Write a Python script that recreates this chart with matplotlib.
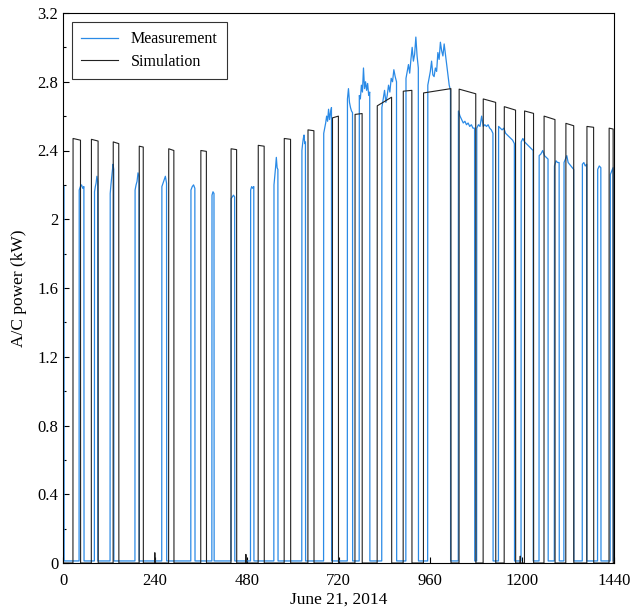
import numpy as np
import matplotlib
matplotlib.use("Agg")
import matplotlib.pyplot as plt
from matplotlib.ticker import MultipleLocator

# ---------------- data ----------------
# Simulation cycles: (on time, off time, power at start, power at end) in min / kW
sim_on  = [26, 74, 131, 199, 276, 360, 439, 510, 578, 640, 704, 763, 821, 889, 942, 1035, 1098, 1153, 1206, 1257, 1314, 1369, 1427]
sim_off = [46, 92, 146, 210, 290, 375, 454, 526, 595, 656, 720, 782, 859, 912, 1014, 1079, 1131, 1183, 1230, 1286, 1335, 1387, 1438]
sim_v0  = [2.47, 2.465, 2.45, 2.425, 2.41, 2.40, 2.41, 2.43, 2.47, 2.52, 2.59, 2.61, 2.66, 2.745, 2.735, 2.757, 2.70, 2.655, 2.63, 2.60, 2.558, 2.54, 2.53]
sim_v1  = [2.46, 2.455, 2.44, 2.42, 2.40, 2.395, 2.405, 2.425, 2.465, 2.515, 2.60, 2.615, 2.71, 2.75, 2.76, 2.73, 2.68, 2.635, 2.616, 2.58, 2.544, 2.535, 2.525]
# small simulation blips near zero
sim_blip_t = [240, 478, 1195]
sim_blip_v = [0.06, 0.05, 0.04]

# Measurement cycles: on time, off time and the sampled power levels during the cycle
meas_on  = [0, 42, 82, 123, 188, 258, 334, 389, 439, 490, 551, 624, 681, 743, 774, 833, 896, 953, 1033, 1081, 1138, 1197, 1244, 1284, 1309, 1357, 1397, 1430]
meas_off = [3, 55, 91, 133, 199, 271, 345, 395, 449, 499, 562, 634, 702, 757, 802, 872, 929, 1013, 1076, 1124, 1180, 1229, 1268, 1297, 1335, 1369, 1406, 1438]
meas_vals = [
    [2.20, 2.19],
    [2.17, 2.19, 2.20, 2.18, 2.19],
    [2.16, 2.19, 2.21, 2.25, 2.22],
    [2.15, 2.20, 2.24, 2.28, 2.32, 2.29],
    [2.17, 2.20, 2.22, 2.27, 2.25],
    [2.19, 2.21, 2.23, 2.25, 2.21],
    [2.17, 2.19, 2.20, 2.18],
    [2.14, 2.16, 2.15],
    [2.12, 2.13, 2.14, 2.13],
    [2.17, 2.19, 2.18, 2.19],
    [2.20, 2.25, 2.30, 2.36, 2.30, 2.29],
    [2.40, 2.44, 2.47, 2.49, 2.44, 2.45],
    [2.50, 2.53, 2.56, 2.60, 2.57, 2.64, 2.58, 2.62, 2.65],
    [2.70, 2.76, 2.68, 2.65, 2.63, 2.62],
    [2.72, 2.70, 2.78, 2.74, 2.88, 2.76, 2.80, 2.75, 2.79, 2.72, 2.74],
    [2.65, 2.70, 2.75, 2.68, 2.72, 2.78, 2.74, 2.82, 2.80, 2.87, 2.83, 2.80],
    [2.82, 2.86, 2.90, 2.85, 2.93, 3.00, 2.92, 2.96, 3.06, 2.95, 2.88],
    [2.78, 2.82, 2.86, 2.92, 2.84, 2.83, 2.88, 2.86, 2.97, 2.93, 3.03, 2.98, 2.95, 3.02, 2.96, 2.90, 2.84, 2.78, 2.75],
    [2.63, 2.60, 2.58, 2.56, 2.57, 2.55, 2.56, 2.54, 2.55, 2.53, 2.53],
    [2.53, 2.55, 2.54, 2.60, 2.54, 2.55, 2.54, 2.55, 2.53, 2.52, 2.50],
    [2.54, 2.53, 2.52, 2.53, 2.50, 2.49, 2.48, 2.47, 2.46, 2.44],
    [2.45, 2.47, 2.45, 2.44, 2.43, 2.42, 2.41, 2.40],
    [2.37, 2.38, 2.40, 2.37, 2.36, 2.35],
    [2.31, 2.34, 2.33, 2.33],
    [2.33, 2.35, 2.37, 2.33, 2.32, 2.31, 2.30, 2.29],
    [2.32, 2.33, 2.31, 2.32],
    [2.29, 2.31, 2.30],
    [2.26, 2.28, 2.30],
]
meas_base = 0.012

x_ticks = [0, 240, 480, 720, 960, 1200, 1440]
y_ticks = [0, 0.4, 0.8, 1.2, 1.6, 2.0, 2.4, 2.8, 3.2]
y_tick_labels = ["0", "0.4", "0.8", "1.2", "1.6", "2", "2.4", "2.8", "3.2"]

# ---------------- build traces ----------------
pairs = [(0.0, 0.0)]
for on, off, v0, v1 in zip(sim_on, sim_off, sim_v0, sim_v1):
    pairs += [(on, 0.0), (on + 0.3, v0), (off - 0.3, v1), (off, 0.0)]
for bt, bv in zip(sim_blip_t, sim_blip_v):
    pairs += [(bt - 0.5, 0.0), (bt, bv), (bt + 0.5, 0.0)]
pairs.sort(key=lambda p: p[0])
pairs.append((1440, 0.0))
sx = [p[0] for p in pairs]
sy = [p[1] for p in pairs]

mx, my = [], []
for on, off, vals in zip(meas_on, meas_off, meas_vals):
    n = len(vals)
    ts = np.linspace(on + 0.4, off - 0.4, n)
    if on > 0:
        mx.append(on); my.append(meas_base)
    mx += list(ts); my += list(vals)
    mx.append(off); my.append(meas_base)
mx.append(1440); my.append(meas_base)

# ---------------- plot ----------------
plt.rcParams['font.family'] = ['Liberation Serif', 'DejaVu Serif']
fig = plt.figure(figsize=(6.32, 6.15), dpi=100)
ax = fig.add_axes([63/632, 52/615, 551/632, 550/615])

ax.plot(mx, my, color='#2a8ae6', lw=0.9, label='Measurement')
ax.plot(sx, sy, color='#222222', lw=0.8, label='Simulation')

ax.set_xlim(0, 1440)
ax.set_ylim(0, 3.2)
ax.set_xticks(x_ticks)
ax.set_yticks(y_ticks)
ax.set_yticklabels(y_tick_labels)
ax.yaxis.set_minor_locator(MultipleLocator(0.2))
ax.tick_params(which='both', direction='in', labelsize=12, width=0.8)
ax.tick_params(which='major', length=4)
ax.tick_params(which='minor', length=2.5)
ax.tick_params(axis='x', pad=7)
for s in ax.spines.values():
    s.set_linewidth(0.8)

ax.set_ylabel('A/C power (kW)', fontsize=12.5, labelpad=7)
ax.set_xlabel('June 21, 2014', fontsize=12.5, labelpad=2)

leg = ax.legend(loc='upper left', bbox_to_anchor=(0.016, 0.984), borderaxespad=0,
                fontsize=11.5, frameon=True, fancybox=False, edgecolor='black',
                handlelength=2.3, borderpad=0.6, labelspacing=0.4, handletextpad=0.8)
leg.get_frame().set_linewidth(0.8)

fig.savefig('out.png', dpi=100)
